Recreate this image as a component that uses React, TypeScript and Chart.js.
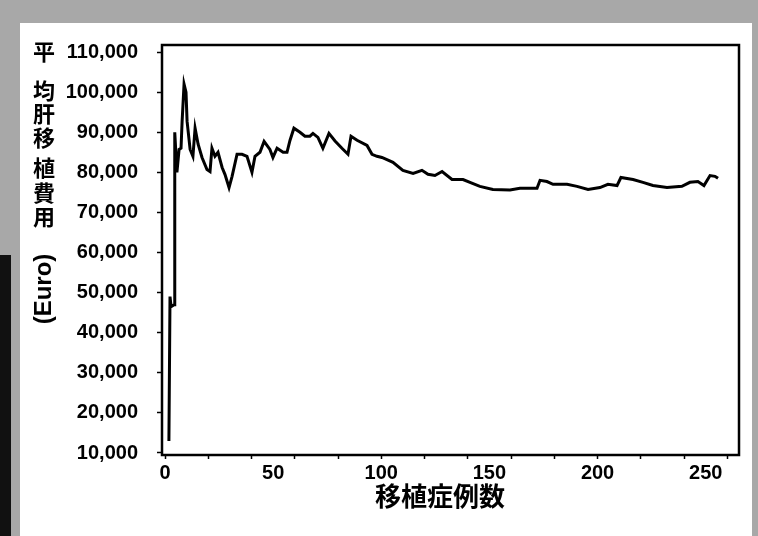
import React, { useEffect, useRef } from "react";
import { Chart, registerables } from "chart.js";
Chart.register(...registerables);

// Case number (x) and running average liver transplant cost in Euro (y)
const caseNumbers = [
  1.8, 2.3, 2.8, 4.2, 4.4, 4.6, 5.5, 6.5, 7.4, 7.9, 8.8, 9.7, 10.2, 11.6, 12.9,
  13.9, 15.3, 17.1, 19.4, 20.8, 21.7, 23.1, 24.5, 26.4, 27.7, 29.6, 31.0, 33.3,
  35.6, 37.9, 40.2, 41.6, 43.9, 45.8, 48.5, 49.9, 51.8, 54.6, 56.4, 57.8, 59.6,
  62.4, 64.7, 67.0, 68.4, 70.7, 73.0, 75.8, 78.6, 81.8, 84.6, 86.0, 88.8, 93.4,
  95.7, 98.0, 100.3, 105.4, 110.0, 114.7, 118.8, 121.6, 124.8, 128.1, 132.7,
  137.8, 141.0, 145.6, 151.6, 159.5, 164.1, 172.0, 173.4, 176.6, 179.4, 185.9,
  190.5, 195.6, 201.1, 204.8, 209.0, 210.8, 216.4, 221.0, 225.6, 232.1, 239.0,
  242.7, 246.4, 249.2, 252.0, 254.3, 255.7,
];
const avgCost = [
  13000, 49000, 46500, 47000, 56000, 90000, 80000, 85700, 86000, 92700, 102000,
  100000, 92700, 85700, 84000, 91000, 87000, 83700, 80700, 80200, 86000, 84000,
  85000, 81200, 79500, 76200, 79000, 84500, 84500, 84000, 80000, 84000, 85000,
  87700, 85700, 83700, 86000, 85000, 85000, 88000, 91000, 90000, 89000, 89000,
  89700, 88700, 86000, 89700, 87800, 86000, 84500, 89000, 88000, 86700, 84500,
  84000, 83700, 82500, 80500, 79700, 80500, 79500, 79200, 80200, 78200, 78200,
  77500, 76500, 75700, 75600, 76000, 76000, 78000, 77700, 77000, 77000, 76500,
  75700, 76200, 77000, 76700, 78700, 78200, 77500, 76700, 76200, 76500, 77500,
  77700, 76700, 79200, 79000, 78500,
];
const yTickValues = [10000, 20000, 30000, 40000, 50000, 60000, 70000, 80000, 90000, 100000, 110000];
const xLabelValues = [0, 50, 100, 150, 200, 250];
const xMarkValues = [0, 20, 40, 60, 80, 100, 120, 140, 160, 180, 200, 220, 240, 260];
const yTitleChars = ["平", "均", "肝", "移", "植", "費", "用"];
const yTitleUnit = "(Euro)";
const xTitle = "移植症例数";

const LATIN = '"Liberation Sans", Arial, sans-serif';
const CJK = '"Noto Sans CJK JP", "Noto Sans CJK SC", sans-serif';

export default function App() {
  const ref = useRef<HTMLCanvasElement | null>(null);

  useEffect(() => {
    const canvas = ref.current;
    if (!canvas) return;

    const allXTicks = Array.from(new Set([...xMarkValues, ...xLabelValues])).sort((a, b) => a - b);

    const decor = {
      id: "decor",
      beforeDraw(chart: any) {
        const { ctx, width, height } = chart;
        ctx.save();
        ctx.fillStyle = "#a8a8a8";
        ctx.fillRect(0, 0, width, height);
        ctx.fillStyle = "#ffffff";
        ctx.fillRect(20, 23, width - 26, height - 23);
        ctx.fillStyle = "#111111";
        ctx.fillRect(0, 255, 11, height - 255);
        ctx.restore();
      },
      afterDraw(chart: any) {
        const { ctx, chartArea } = chart;
        const { left, top, right, bottom } = chartArea;
        ctx.save();
        ctx.strokeStyle = "#000";
        ctx.lineWidth = 2.5;
        ctx.strokeRect(left, top, right - left, bottom - top);

        // Y axis title: stacked CJK characters then rotated unit
        ctx.fillStyle = "#000";
        ctx.textAlign = "center";
        ctx.textBaseline = "middle";
        ctx.font = `bold 22px ${CJK}`;
        const ys = [52, 91, 114, 138, 168, 193, 217];
        yTitleChars.forEach((c, i) => ctx.fillText(c, 44, ys[i]));
        ctx.save();
        ctx.translate(44, 289);
        ctx.rotate(-Math.PI / 2);
        ctx.font = `bold 24px ${LATIN}`;
        ctx.fillText(yTitleUnit, 0, 0);
        ctx.restore();

        // X axis title
        ctx.font = `bold 26px ${CJK}`;
        ctx.fillText(xTitle, 440, 496);
        ctx.restore();
      },
    };

    const chart = new Chart(canvas, {
      type: "line",
      data: {
        datasets: [
          {
            data: caseNumbers.map((x, i) => ({ x, y: avgCost[i] })),
            borderColor: "#000",
            borderWidth: 3,
            pointRadius: 0,
            tension: 0,
            fill: false,
          },
        ],
      },
      options: {
        animation: false,
        responsive: false,
        devicePixelRatio: 1,
        layout: { padding: { top: 45, right: 19, left: 0, bottom: 0 } },
        plugins: { legend: { display: false }, tooltip: { enabled: false } },
        scales: {
          x: {
            type: "linear",
            min: -1.4,
            max: 265.4,
            afterBuildTicks: (s: any) => {
              s.ticks = allXTicks.map((v) => ({ value: v }));
            },
            afterFit: (s: any) => {
              s.height = 81;
            },
            border: { display: false },
            grid: {
              drawOnChartArea: false,
              drawTicks: true,
              tickLength: 4,
              tickWidth: 1.5,
              tickColor: (c: any) => (xMarkValues.includes(c.tick?.value) ? "#000" : "rgba(0,0,0,0)"),
            },
            ticks: {
              autoSkip: false,
              maxRotation: 0,
              padding: 2,
              color: "#000",
              font: { family: LATIN, size: 20, weight: "bold" },
              callback: (v: any) => (xLabelValues.includes(Number(v)) ? String(v) : ""),
            },
          },
          y: {
            type: "linear",
            min: 9500,
            max: 111750,
            afterBuildTicks: (s: any) => {
              s.ticks = yTickValues.map((v) => ({ value: v }));
            },
            afterFit: (s: any) => {
              s.width = 162;
            },
            border: { display: false },
            grid: {
              drawOnChartArea: false,
              drawTicks: true,
              tickLength: 5,
              tickWidth: 1.5,
              tickColor: "#000",
            },
            ticks: {
              padding: 19,
              color: "#000",
              font: { family: LATIN, size: 20, weight: "bold" },
              callback: (v: any) => Number(v).toLocaleString("en-US"),
            },
          },
        },
      },
      plugins: [decor],
    });

    return () => chart.destroy();
  }, []);

  return (
    <div style={{ position: "fixed", left: 0, top: 0, width: 758, height: 536 }}>
      <canvas ref={ref} width={758} height={536} style={{ display: "block" }} />
    </div>
  );
}
